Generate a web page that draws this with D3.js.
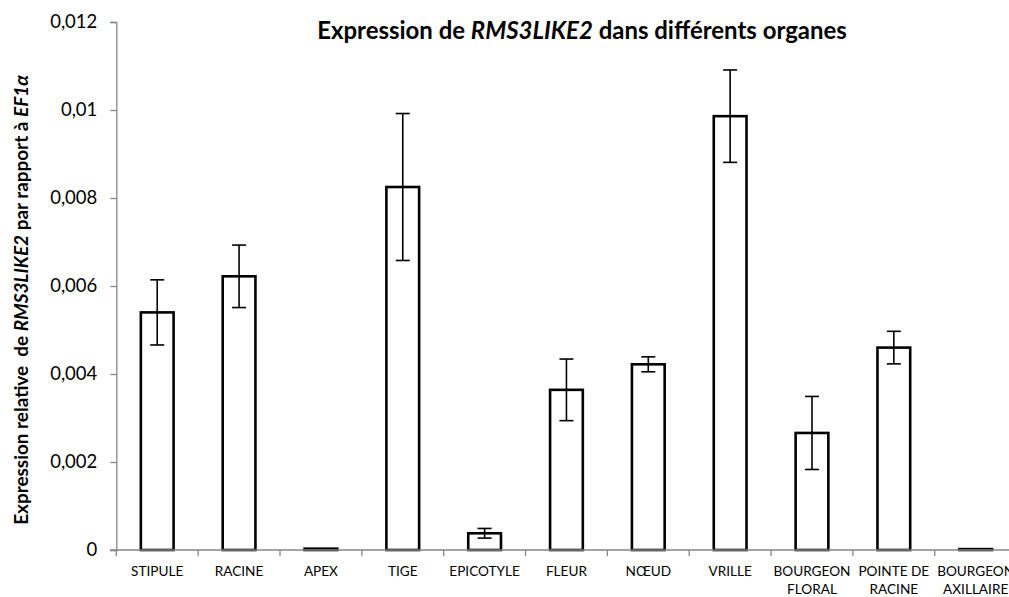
<!DOCTYPE html>
<html>
<head>
<meta charset="utf-8">
<script src="https://cdn.jsdelivr.net/npm/d3@7"></script>
<style>
  html, body { margin: 0; padding: 0; background: #fff; }
  svg { display: block; font-family: Lato, "Open Sans", sans-serif; }
</style>
</head>
<body>
<svg id="chart" width="1009" height="597"></svg>
<script>
// Organs (label lines) and relative expression of RMS3LIKE2 vs EF1α
const organs = [
  ["STIPULE"], ["RACINE"], ["APEX"], ["TIGE"], ["EPICOTYLE"], ["FLEUR"],
  ["NŒUD"], ["VRILLE"], ["BOURGEON", "FLORAL"], ["POINTE DE", "RACINE"],
  ["BOURGEON", "AXILLAIRE"]
];
const expression = [0.00540, 0.00622, 0.00003, 0.00825, 0.00038, 0.00364,
                    0.00422, 0.00986, 0.00266, 0.00460, 0.00002];
const errors = [0.00074, 0.00071, 0.00000, 0.00167, 0.00011, 0.00070,
                0.00017, 0.00105, 0.00083, 0.00037, 0.00000];
const yTicks = [0, 0.002, 0.004, 0.006, 0.008, 0.01, 0.012];

const svg = d3.select("#chart");
const plotLeft = 116.3, plotRight = 1016.6, plotTop = 22, plotBottom = 550;

const x = d3.scaleBand().domain(d3.range(organs.length)).range([plotLeft, plotRight])
  .paddingInner(0.6).paddingOuter(0.3);
const y = d3.scaleLinear().domain([0, 0.012]).range([plotBottom, plotTop]);
const fmt = v => v === 0 ? "0" : String(+v.toFixed(3)).replace(".", ",");
const axisGrey = "#868686";

// Scale a text's font size so that it spans the given width
function fitWidth(sel, width) {
  const fs = parseFloat(sel.attr("font-size"));
  const w = sel.node().getComputedTextLength();
  sel.attr("font-size", fs * width / w);
}

// Bars
svg.append("g").selectAll("rect").data(expression).join("rect")
  .attr("x", (d, i) => x(i))
  .attr("y", d => y(d))
  .attr("width", x.bandwidth())
  .attr("height", d => y(0) - y(d))
  .attr("fill", "#fff")
  .attr("stroke", "#000")
  .attr("stroke-width", 2.6);

// Error bars
const eb = svg.append("g").attr("stroke", "#000").attr("stroke-width", 1.6);
expression.forEach((v, i) => {
  const e = errors[i];
  if (e <= 0) return;
  const cx = x(i) + x.bandwidth() / 2;
  eb.append("line").attr("x1", cx).attr("x2", cx).attr("y1", y(v + e)).attr("y2", y(v - e));
  [v + e, v - e].forEach(t => {
    eb.append("line").attr("x1", cx - 7).attr("x2", cx + 7).attr("y1", y(t)).attr("y2", y(t));
  });
});

// Y axis
const yAxis = svg.append("g").attr("transform", `translate(${plotLeft},0)`)
  .call(d3.axisLeft(y).tickValues(yTicks).tickFormat(fmt).tickSize(6).tickPadding(13));
yAxis.select(".domain").attr("stroke", axisGrey).attr("stroke-width", 1.3);
yAxis.selectAll(".tick line").attr("stroke", axisGrey).attr("stroke-width", 1.3);
yAxis.selectAll(".tick text").attr("font-size", 18.5).attr("fill", "#000")
  .attr("font-family", "Lato, 'Open Sans', sans-serif");

// X axis
const xAxisLine = svg.append("g").attr("stroke", axisGrey).attr("stroke-width", 1.3);
xAxisLine.append("line").attr("x1", plotLeft - 6).attr("x2", plotRight)
  .attr("y1", plotBottom).attr("y2", plotBottom);
d3.range(organs.length + 1).forEach(k => {
  const bx = plotLeft + k * (plotRight - plotLeft) / organs.length;
  xAxisLine.append("line").attr("x1", bx).attr("x2", bx)
    .attr("y1", plotBottom).attr("y2", plotBottom + 6);
});

// Category labels
const lab = svg.append("g").attr("font-size", 13.6).attr("text-anchor", "middle").attr("fill", "#000");
organs.forEach((lines, i) => {
  const cx = x(i) + x.bandwidth() / 2;
  const t = lab.append("text").attr("x", cx).attr("y", 576);
  lines.forEach((l, j) => t.append("tspan").attr("x", cx).attr("dy", j === 0 ? 0 : 18).text(l));
});

// Title
const title = svg.append("text").attr("x", 582).attr("y", 39)
  .attr("text-anchor", "middle").attr("font-size", 18).attr("font-weight", "bold");
title.append("tspan").text("Expression de ");
title.append("tspan").attr("font-style", "italic").text("RMS3LIKE2");
title.append("tspan").text(" dans différents organes");
fitWidth(title, 530);

// Y axis title
const yt = svg.append("text").attr("transform", "translate(28,300) rotate(-90)")
  .attr("text-anchor", "middle").attr("font-size", 15).attr("font-weight", "bold");
yt.append("tspan").text("Expression relative\u00a0 de ");
yt.append("tspan").attr("font-style", "italic").text("RMS3LIKE2");
yt.append("tspan").text(" par rapport à ");
yt.append("tspan").attr("font-style", "italic").text("EF1α");
fitWidth(yt, 450);
</script>
</body>
</html>
